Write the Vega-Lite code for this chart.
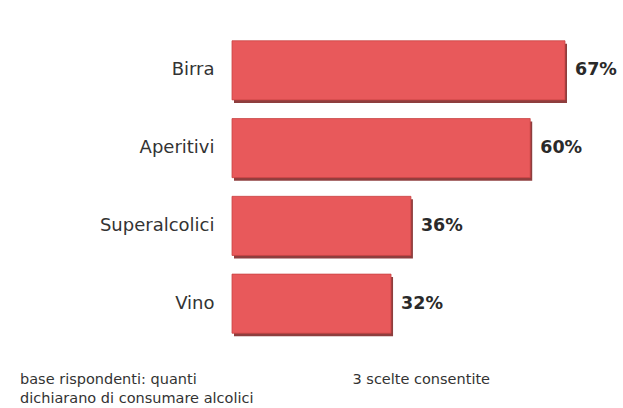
{
  "$schema": "https://vega.github.io/schema/vega-lite/v6.json",
  "width": 333,
  "height": 308,
  "autosize": {"type": "none"},
  "padding": {"left": 232, "top": 33, "right": 58, "bottom": 67},
  "background": "white",
  "config": {"view": {"stroke": null}, "font": "DejaVu Sans"},
  "title": {
    "text": ["base rispondenti: quanti", "dichiarano di consumare alcolici"],
    "orient": "bottom",
    "anchor": "start",
    "frame": "group",
    "dx": -212,
    "offset": -13,
    "fontSize": 14.5,
    "fontWeight": "normal",
    "font": "DejaVu Sans",
    "color": "#333333",
    "lineHeight": 19
  },
  "data": {
    "values": [
      {"categoria": "Birra", "valore": 67, "etichetta": "67%"},
      {"categoria": "Aperitivi", "valore": 60, "etichetta": "60%"},
      {"categoria": "Superalcolici", "valore": 36, "etichetta": "36%"},
      {"categoria": "Vino", "valore": 32, "etichetta": "32%"}
    ]
  },
  "encoding": {
    "y": {
      "field": "categoria",
      "type": "nominal",
      "sort": null,
      "scale": {"paddingInner": 0.24, "paddingOuter": 0.1},
      "axis": {
        "title": null,
        "domain": false,
        "ticks": false,
        "labelPadding": 18,
        "labelFontSize": 18,
        "labelColor": "#333333",
        "labelFont": "DejaVu Sans"
      }
    },
    "x": {
      "field": "valore",
      "type": "quantitative",
      "scale": {"domain": [0, 67], "nice": false},
      "axis": {
        "labels": false,
        "ticks": false,
        "domain": false,
        "grid": false,
        "title": "3 scelte consentite",
        "titleFont": "DejaVu Sans",
        "titleFontSize": 14.5,
        "titleFontWeight": "normal",
        "titleColor": "#333333",
        "titleAnchor": "start",
        "titleX": 120,
        "titleY": 31
      }
    }
  },
  "layer": [
    {
      "mark": {"type": "bar", "color": "#7a1c1c", "xOffset": 2, "yOffset": 3, "opacity": 0.85}
    },
    {
      "mark": {"type": "bar", "color": "#e8595b", "stroke": "#c94444", "strokeWidth": 0.8}
    },
    {
      "mark": {"type": "text", "align": "left", "dx": 10, "fontSize": 17.5, "fontWeight": "bold", "font": "DejaVu Sans", "color": "#2a2a2a"},
      "encoding": {"text": {"field": "etichetta"}}
    }
  ]
}
